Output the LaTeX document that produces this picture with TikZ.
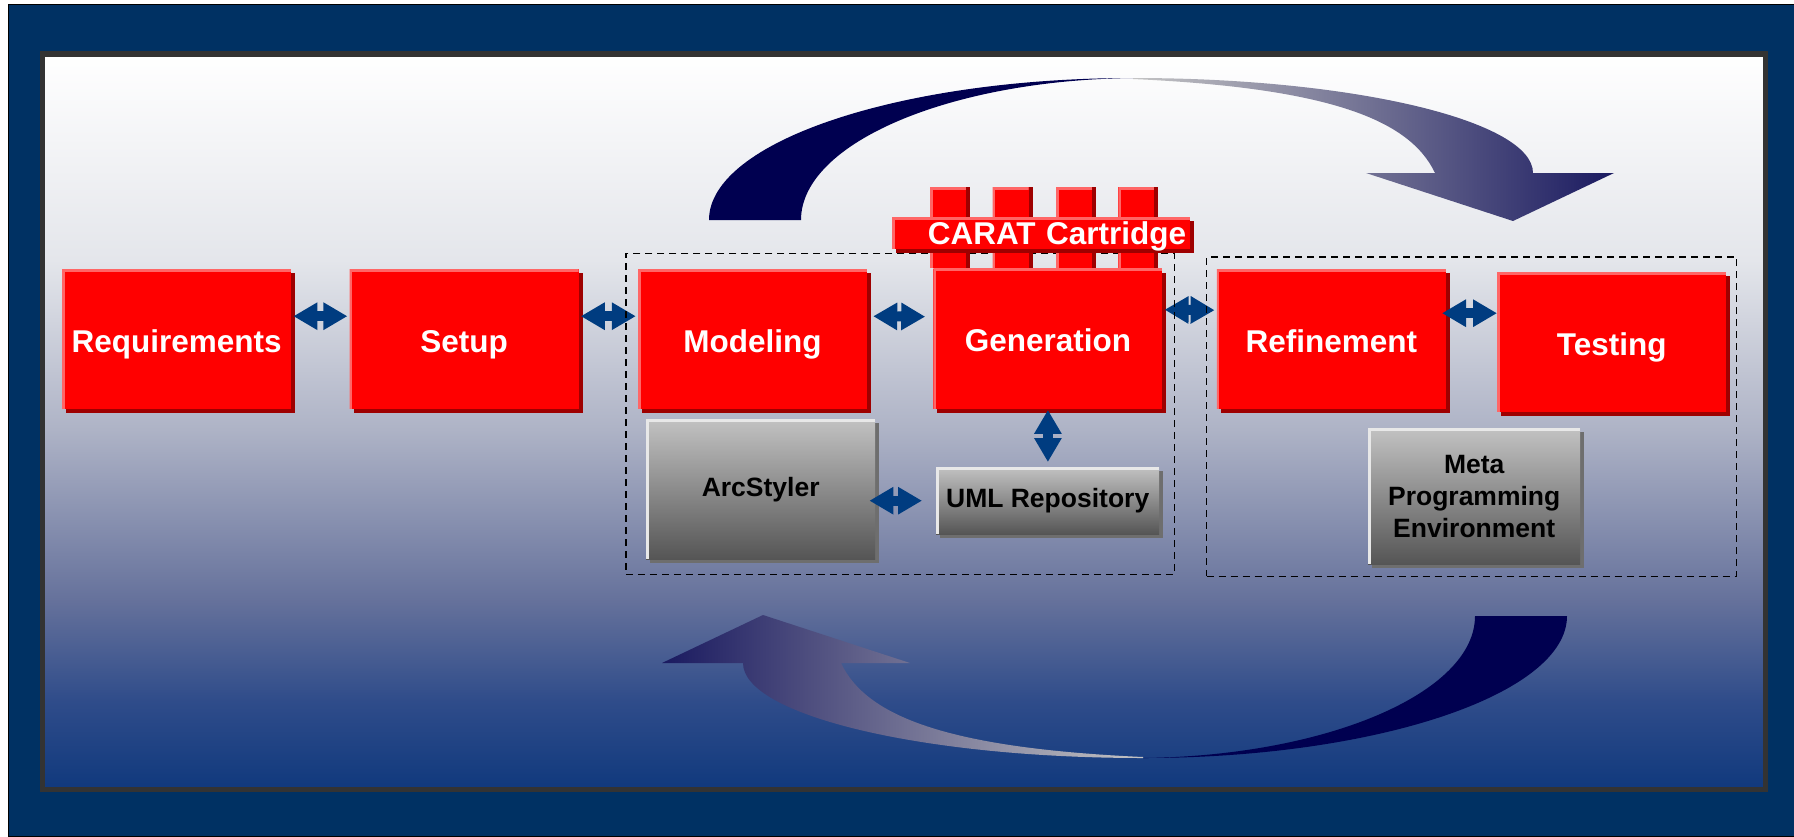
\documentclass[tikz,border=0pt]{standalone}
\usepackage{fontspec}
\setsansfont{Liberation Sans}
\usetikzlibrary{positioning,arrows.meta,fit,shadows}

\definecolor{framenavy}{HTML}{003163}
\definecolor{panelrim}{HTML}{333333}
\definecolor{boxred}{HTML}{FF0000}
\definecolor{edgered}{HTML}{FF6666}
\definecolor{shadered}{HTML}{9E0000}
\definecolor{greytop}{HTML}{C2C2C2}
\definecolor{greybot}{HTML}{555555}
\definecolor{edgegrey}{HTML}{E8E8E8}
\definecolor{shadegrey}{HTML}{6E6E6E}
\definecolor{linkblue}{HTML}{003C80}
\definecolor{cyclenavy}{HTML}{000050}
\definecolor{cyclegrey}{HTML}{C4C4C4}
\definecolor{cycledark}{HTML}{1A1A60}
\definecolor{pnlA}{HTML}{10397D}
\definecolor{pnlB}{HTML}{2F4C8A}
\definecolor{pnlC}{HTML}{65719B}
\definecolor{pnlD}{HTML}{AEB3C6}
\definecolor{pnlE}{HTML}{E4E6EB}

\pgfdeclareverticalshading{panelshade}{100bp}{color(0bp)=(pnlA); color(25bp)=(pnlA);
  color(31bp)=(pnlB); color(37.8bp)=(pnlC); color(49.5bp)=(pnlD); color(61bp)=(pnlE);
  color(75bp)=(white); color(100bp)=(white)}

\tikzset{
  phase/.style={fill=boxred, minimum width=229pt, minimum height=140pt, inner sep=0pt,
    text=white, font=\sffamily\bfseries\fontsize{31.5}{36}\selectfont,
    text height=26pt, text depth=0pt,
    drop shadow={shadow xshift=4pt, shadow yshift=-4pt, fill=shadered, opacity=1},
    path picture={\draw[edgered, line width=5pt] (path picture bounding box.south west)
      -- (path picture bounding box.north west) -- (path picture bounding box.north east);}},
  tool/.style={top color=greytop, bottom color=greybot, inner sep=0pt, align=center,
    font=\sffamily\bfseries\fontsize{26.5}{32}\selectfont,
    drop shadow={shadow xshift=4pt, shadow yshift=-4pt, fill=shadegrey, opacity=1},
    path picture={\draw[edgegrey, line width=5pt] (path picture bounding box.south west)
      -- (path picture bounding box.north west) -- (path picture bounding box.north east);}},
  tooth/.style={fill=boxred, minimum width=36pt, minimum height=81pt, inner sep=0pt,
    drop shadow={shadow xshift=4pt, shadow yshift=0pt, fill=shadered, opacity=1},
    path picture={\draw[edgered, line width=5pt] (path picture bounding box.south west)
      -- (path picture bounding box.north west) -- (path picture bounding box.north east);}},
  link/.style={draw=linkblue, line width=10pt,
    {Triangle[length=24pt,width=26pt]}-{Triangle[length=24pt,width=26pt]},
    shorten <=2pt, shorten >=2pt},
  group/.style={draw=black, line width=1.5pt, dash pattern=on 7pt off 5pt}
}

\begin{document}
\begin{tikzpicture}[x=1pt, y=-1pt]
  \useasboundingbox (0,0) rectangle (1794,836);
  \fill[white] (0,0) rectangle (1794,836);
  \filldraw[fill=framenavy, draw=black] (8,4) rectangle (1794,836);
  \draw[panelrim, line width=5.5pt, shading=panelshade] (42.5,54) rectangle (1765.5,789.5);

  % cycle arrows
  \fill[cyclenavy] (709,220) .. controls (709,142) and (899,78) .. (1133,78)
    .. controls (950,80) and (801,143) .. (801,220) -- cycle;
  \shade[left color=cyclegrey, right color=cycledark] (1133,78)
    .. controls (1354,78) and (1533,121) .. (1533,173) -- (1614,173) -- (1513,221)
    -- (1366,173) -- (1435,173) .. controls (1410,120) and (1330,88) .. (1133,79) -- cycle;
  \begin{scope}[rotate around={180:(1138,418)}]
    \fill[cyclenavy] (709,220) .. controls (709,142) and (899,78) .. (1133,78)
      .. controls (950,80) and (801,143) .. (801,220) -- cycle;
    \shade[left color=cycledark, right color=cyclegrey] (1133,78)
      .. controls (1354,78) and (1533,121) .. (1533,173) -- (1614,173) -- (1513,221)
      -- (1366,173) -- (1435,173) .. controls (1410,120) and (1330,88) .. (1133,79) -- cycle;
  \end{scope}

  % phases
  \node[phase, anchor=north west] (req) at (62,269) {Requirements};
  \node[phase, right=58pt of req] (setup) {Setup};
  \node[phase, right=59pt of setup] (model) {Modeling};
  \node[phase, right=66pt of model, yshift=0.5pt] (gen) {Generation};
  \node[phase, right=54pt of gen, yshift=-0.5pt] (refine) {Refinement};
  \node[phase, right=51pt of refine, yshift=-3pt] (test) {Testing};

  % tools
  \node[tool, anchor=north west, minimum width=229pt, minimum height=140pt] (arc) at (646,419) {ArcStyler};
  \node[tool, anchor=north west, minimum width=223pt, minimum height=67pt] (uml) at (936,467) {UML Repository};
  \node[tool, anchor=north west, minimum width=212pt, minimum height=136pt] (meta) at (1368,428) {Meta\\Programming\\Environment};

  \draw[link] ([yshift=23pt]req.east) -- ([yshift=23pt]setup.west);
  \draw[link] ([yshift=23pt]setup.west -| setup.east) -- ([yshift=23pt]model.west);
  \draw[link, shorten <=6pt, shorten >=8pt] ([yshift=23pt]model.east) -- ([yshift=22pt]gen.west);
  \draw[link] ([yshift=29pt]gen.east) -- ([yshift=29pt]refine.west);
  \draw[link, shorten <=-4pt, shorten >=0pt] ([yshift=26pt]refine.east) -- ([yshift=26pt]refine.east -| test.west);
  \draw[link, shorten <=1pt, shorten >=5pt] (gen.south) -- (gen.south |- uml.north);
  \draw[link, shorten <=-6pt, shorten >=14pt] (arc.east |- uml.west) -- (uml.west);

  \node[group, fit=(model)(gen)(arc), inner xsep=12pt, inner ysep=15pt] (tooling) {};
  \node[group, fit=(refine)(test)(meta), inner xsep=10pt, inner ysep=12pt] (runtime) {};

  % cartridge
  \node[tooth, anchor=north west] (tooth1) at (930,187) {};
  \node[tooth, right=26pt of tooth1] (tooth2) {};
  \node[tooth, right=27pt of tooth2] (tooth3) {};
  \node[tooth, right=26pt of tooth3] (tooth4) {};
  \node[phase, anchor=north west, minimum width=298pt, minimum height=32pt,
    text width=290pt, align=right, text height=23pt] (cart) at (892,217) {CARAT Cartridge};
\end{tikzpicture}
\end{document}
